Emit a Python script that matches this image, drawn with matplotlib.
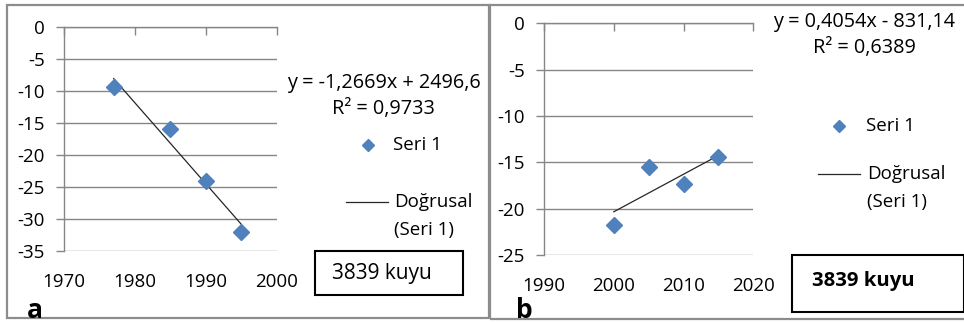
import matplotlib
matplotlib.use("Agg")
import matplotlib.pyplot as plt
from matplotlib.lines import Line2D
from matplotlib.patches import Rectangle
import numpy as np

# ---- data ----
years_a = [1977, 1985, 1990, 1995]
values_a = [-9.4, -16.0, -24.0, -32.1]
slope_a, intercept_a = -1.2669, 2496.6
eq_a = "y = -1,2669x + 2496,6"
r2_a = "R² = 0,9733"
xticks_a = [1970, 1980, 1990, 2000]
yticks_a = [0, -5, -10, -15, -20, -25, -30, -35]

years_b = [2000, 2005, 2010, 2015]
values_b = [-21.8, -15.5, -17.3, -14.4]
slope_b, intercept_b = 0.4054, -831.14
eq_b = "y = 0,4054x - 831,14"
r2_b = "R² = 0,6389"
xticks_b = [1990, 2000, 2010, 2020]
yticks_b = [0, -5, -10, -15, -20, -25]

series_label = "Seri 1"
trend_lines = ["Doğrusal", "(Seri 1)"]
box_label = "3839 kuyu"

W, H = 964, 323
FONT = "Open Sans"
FS = 13.5
EQ_FS = 14.3
BLUE = "#4F81BD"
GRID = "#868686"

plt.rcParams["font.family"] = [FONT, "DejaVu Sans"]
fig = plt.figure(figsize=(W / 100, H / 100), dpi=100)


def fx(x):
    return x / W


def fy(y):
    return 1 - y / H


def add_rect(x0, y0, x1, y1, color, lw):
    fig.patches.append(Rectangle((fx(x0), fy(y1)), fx(x1) - fx(x0), fy(y0) - fy(y1),
                                 transform=fig.transFigure, fill=False,
                                 edgecolor=color, linewidth=lw))


def make_axes(l, t, r, b, xs, ys, slope, intercept, xticks, yticks):
    ax = fig.add_axes([fx(l), fy(b), fx(r) - fx(l), fy(t) - fy(b)])
    ax.set_xlim(xticks[0], xticks[-1])
    ax.set_ylim(yticks[-1], yticks[0])
    ax.set_xticks(xticks)
    ax.set_yticks(yticks)
    ax.set_yticklabels([str(v) for v in yticks])
    for s in ["bottom", "right"]:
        ax.spines[s].set_visible(False)
    for s in ["left", "top"]:
        ax.spines[s].set_color(GRID)
        ax.spines[s].set_linewidth(1.0)
    ax.yaxis.grid(True, color=GRID, linewidth=1.0)
    ax.set_axisbelow(True)
    ax.tick_params(axis="y", direction="out", length=5.8, color=GRID, width=1.0,
                   labelsize=FS, pad=8)
    ax.tick_params(axis="x", bottom=False, top=True, labelbottom=True, labeltop=False,
                   direction="in", length=5.5, color=GRID, width=1.0, labelsize=FS, pad=16)
    xs_arr = np.array(xs, dtype=float)
    tx = np.array([xs_arr.min(), xs_arr.max()])
    ax.plot(tx, slope * tx + intercept, color="#262626", linewidth=0.9, zorder=3)
    ax.plot(xs, ys, linestyle="none", marker="D", markersize=8.5, color=BLUE,
            markeredgecolor=BLUE, zorder=4, clip_on=False)
    ax.patch.set_alpha(0)
    return ax


# frames
add_rect(7, 5, 489, 318, "#8c8c8c", 1.6)
add_rect(489.5, 4.5, 966, 319, "#8c8c8c", 1.6)

make_axes(64, 27, 277, 251, years_a, values_a, slope_a, intercept_a, xticks_a, yticks_a)
make_axes(544, 23.3, 753.3, 255, years_b, values_b, slope_b, intercept_b, xticks_b, yticks_b)


def legend_block(eq_xy, r2_xy, diamond_xy, seri_x, line_x0, line_x1, line_y, trend_x,
                 line2_y, eq, r2):
    fig.text(fx(eq_xy[0]), fy(eq_xy[1]), eq, ha="center", va="center", fontsize=EQ_FS)
    fig.text(fx(r2_xy[0]), fy(r2_xy[1]), r2, ha="center", va="center", fontsize=EQ_FS)
    fig.add_artist(Line2D([fx(diamond_xy[0])], [fy(diamond_xy[1])], marker="D",
                          markersize=6.5, color=BLUE, linestyle="none",
                          transform=fig.transFigure))
    fig.text(fx(seri_x), fy(diamond_xy[1]), series_label, ha="left", va="center", fontsize=FS)
    fig.add_artist(Line2D([fx(line_x0), fx(line_x1)], [fy(line_y), fy(line_y)],
                          color="#262626", linewidth=0.9, transform=fig.transFigure))
    fig.text(fx(trend_x), fy(line_y), trend_lines[0], ha="left", va="center", fontsize=FS)
    fig.text(fx(trend_x), fy(line2_y), trend_lines[1], ha="left", va="center", fontsize=FS)


legend_block((383.5, 82.7), (383.7, 109), (367.7, 145), 393, 346, 388, 202, 394, 230,
             eq_a, r2_a)
legend_block((864, 22.3), (864, 48.3), (839.3, 125.7), 865.7, 817.7, 860, 174, 866.7, 201.7,
             eq_b, r2_b)

# boxes
add_rect(314.5, 251, 462.5, 295, "black", 1.5)
fig.text(fx(331.5), fy(274), box_label, ha="left", va="center", fontsize=15)
add_rect(792, 254.5, 963.5, 311.5, "black", 1.5)
fig.text(fx(811.5), fy(281), box_label, ha="left", va="center", fontsize=14.6,
         fontweight="bold")

# panel letters
fig.text(fx(27), fy(318), "a", ha="left", va="baseline", fontsize=19, fontweight="bold")
fig.text(fx(515.5), fy(318), "b", ha="left", va="baseline", fontsize=19, fontweight="bold")

fig.savefig("out.png", dpi=100)
